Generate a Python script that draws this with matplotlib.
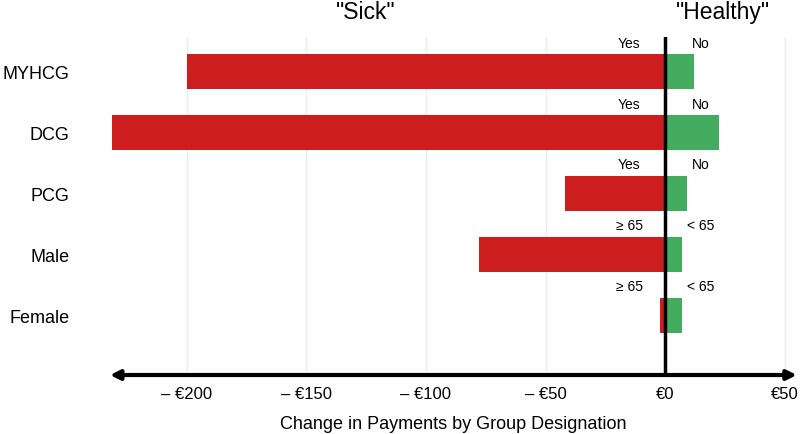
import matplotlib.pyplot as plt
import numpy as np

plt.rcParams["font.family"] = ["Liberation Sans", "DejaVu Sans"]

# Datos
groups = ["MYHCG", "DCG", "PCG", "Male", "Female"]
sick_vals = [-200, -231, -42, -78, -2]
healthy_vals = [12, 22.5, 9, 7, 7]
sick_tags = ["Yes", "Yes", "Yes", "\u2265 65", "\u2265 65"]
healthy_tags = ["No", "No", "No", "< 65", "< 65"]
xticks = [-200, -150, -100, -50, 0, 50]
xticklabels = ["\u2013 \u20ac200", "\u2013 \u20ac150", "\u2013 \u20ac100", "\u2013 \u20ac50", "\u20ac0", "\u20ac50"]

red = "#CC1E1F"
green = "#44AC5E"

fig = plt.figure(figsize=(8, 4.35), dpi=100)
ax = fig.add_axes([0.1375, 0.1356, 0.8585, 0.777])

y = np.arange(len(groups))
ax.barh(y, sick_vals, height=0.58, color=red)
ax.barh(y, healthy_vals, height=0.58, color=green)

# etiquetas encima de cada barra
for i in range(len(groups)):
    ax.text(-15, i - 0.36, sick_tags[i], ha="center", va="bottom", fontsize=10)
    ax.text(15, i - 0.36, healthy_tags[i], ha="center", va="bottom", fontsize=10)

ax.set_xlim(-232, 55)
ax.set_ylim(4.98, -0.566)
ax.set_yticks(y)
ax.set_yticklabels(groups, fontsize=13)
ax.set_xticks(xticks)
ax.set_xticklabels(xticklabels, fontsize=12)
ax.tick_params(axis="x", length=0, pad=8)
ax.tick_params(axis="y", length=0, pad=29)

for s in ax.spines.values():
    s.set_visible(False)
ax.grid(axis="x", color="#ebebeb", linewidth=1)
ax.set_axisbelow(True)

ax.axvline(0, color="black", linewidth=2.5)

# flecha doble en el eje x
ax.annotate("", xy=(0, 0), xytext=(1, 0), xycoords="axes fraction",
            arrowprops=dict(arrowstyle="<|-|>", color="black", lw=3,
                            mutation_scale=14, shrinkA=0, shrinkB=0))

ax.set_xlabel("Change in Payments by Group Designation", fontsize=13, labelpad=10)

# títulos de cada lado
ax.text(-125, 1.075, '"Sick"', transform=ax.get_xaxis_transform(), ha="center",
        va="center", fontsize=16.5, clip_on=False)
ax.text(24, 1.075, '"Healthy"', transform=ax.get_xaxis_transform(), ha="center",
        va="center", fontsize=16.5, clip_on=False)

plt.savefig("out.png", dpi=100)
